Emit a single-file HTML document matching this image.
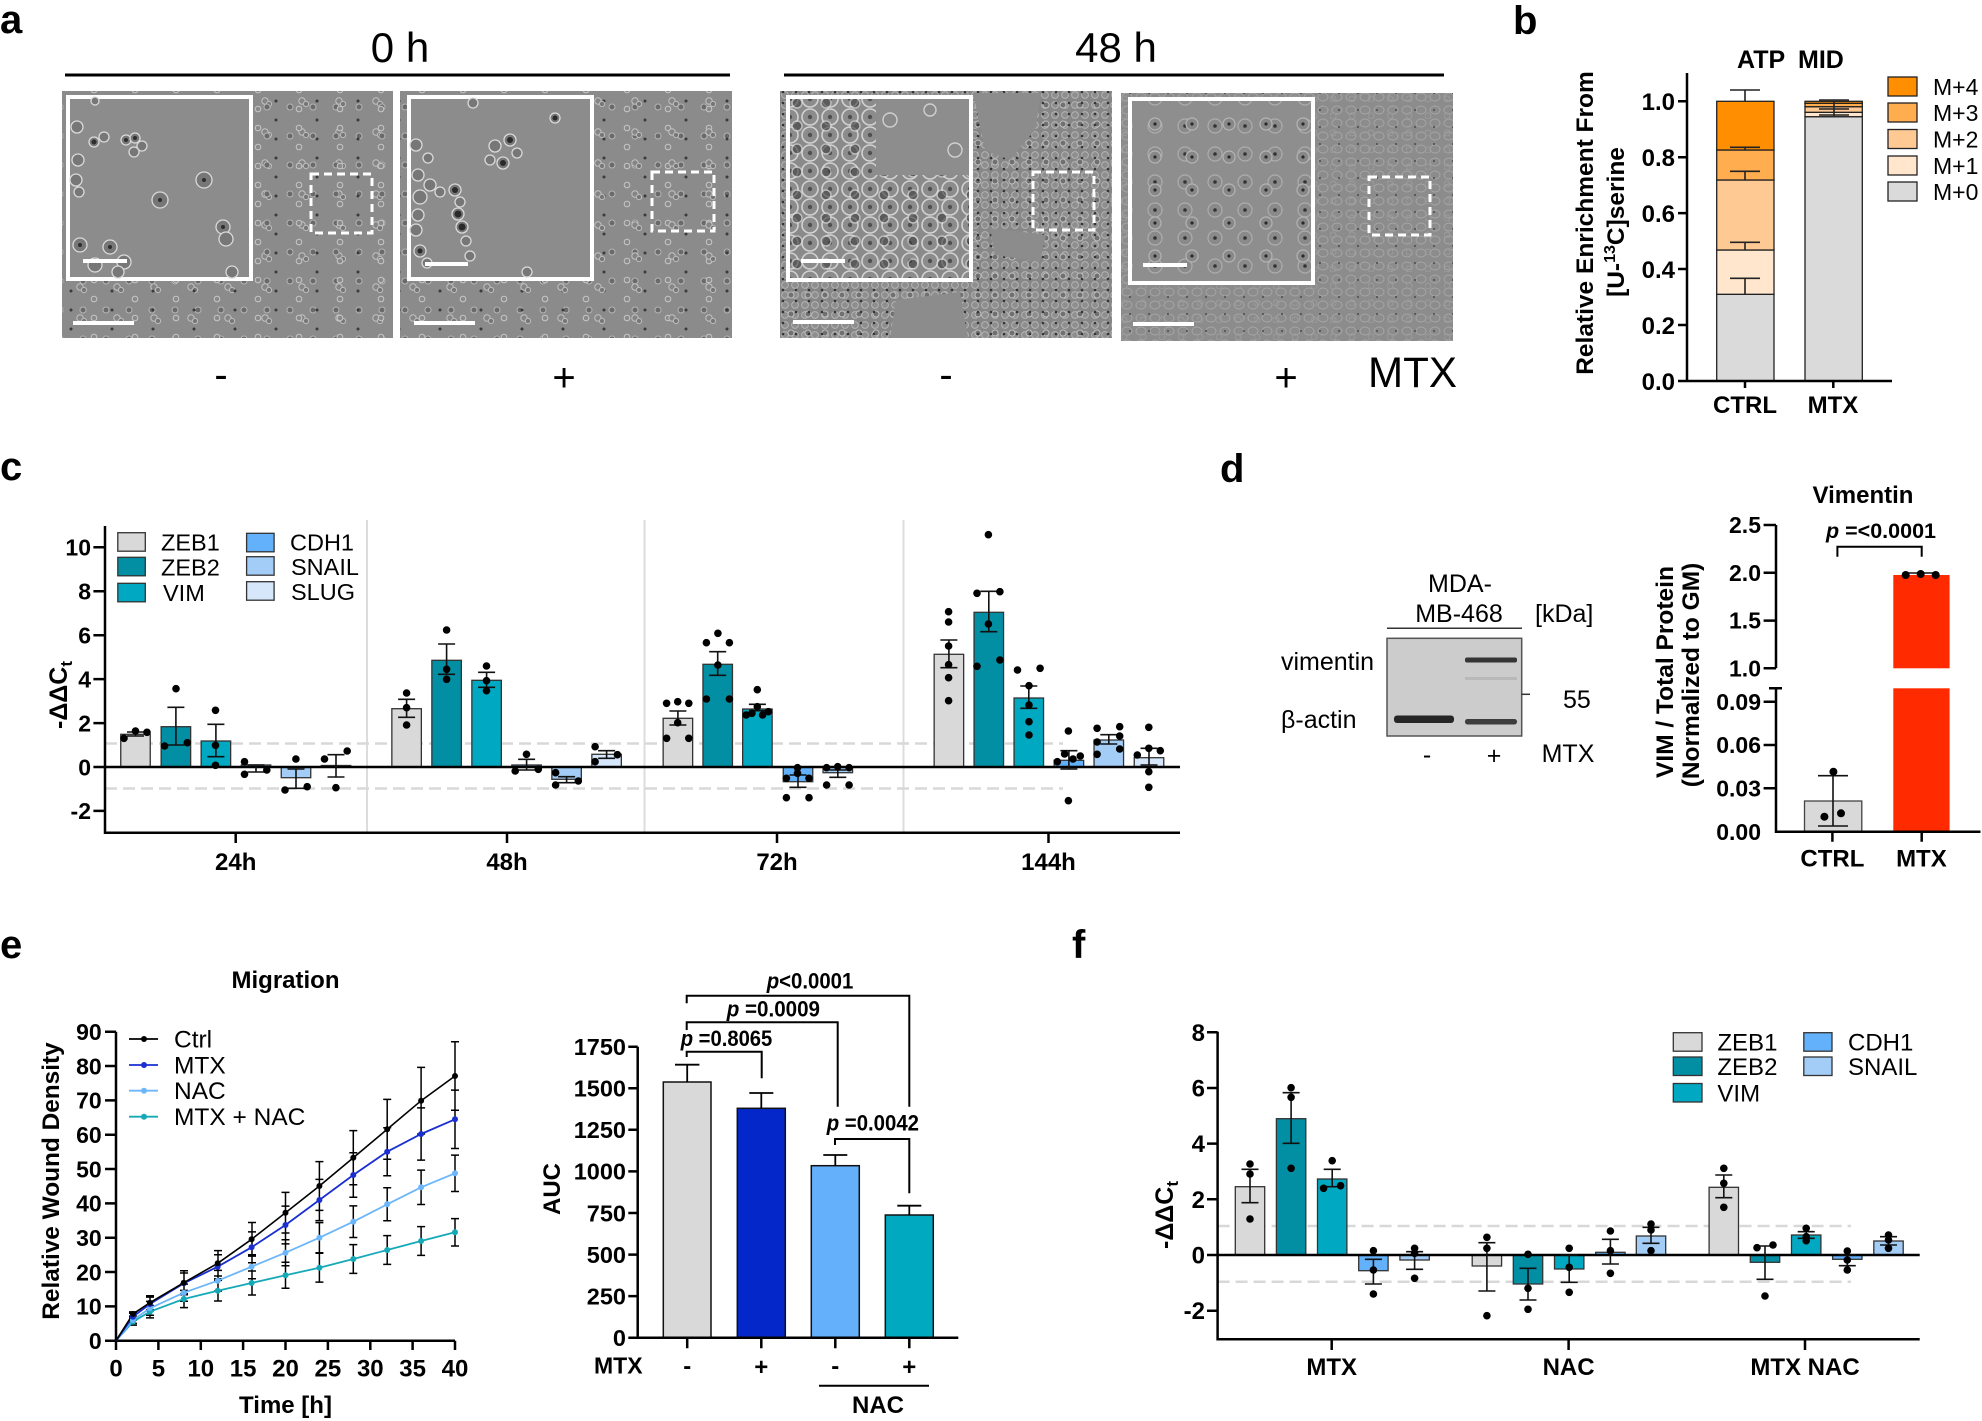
<!DOCTYPE html>
<html><head><meta charset="utf-8"><style>
html,body{margin:0;padding:0;background:#fff;}
svg{display:block;font-family:"Liberation Sans",Arial,sans-serif;}
.b{font-weight:bold;}
</style></head><body>
<svg width="1982" height="1421" viewBox="0 0 1982 1421" xmlns="http://www.w3.org/2000/svg">
<defs>
<pattern id="pS1" width="37" height="31" patternUnits="userSpaceOnUse">
<circle cx="6" cy="8" r="3.2" fill="#858585" stroke="#c2c2c2" stroke-width="1"/>
<circle cx="10" cy="11" r="2.6" fill="#767676" stroke="#bcbcbc" stroke-width="1"/>
</pattern>
<pattern id="pS2" width="23" height="29" patternUnits="userSpaceOnUse">
<circle cx="14" cy="20" r="3" fill="#6a6a6a" stroke="#b5b5b5" stroke-width="1"/>
</pattern>
<pattern id="pS3" width="41" height="19" patternUnits="userSpaceOnUse">
<circle cx="30" cy="6" r="1.5" fill="#3a3a3a"/>
<circle cx="12" cy="14" r="2.8" fill="#8a8a8a" stroke="#c6c6c6" stroke-width="1"/>
</pattern>
<pattern id="pD1" width="10" height="10" patternUnits="userSpaceOnUse">
<circle cx="5" cy="5" r="3.4" fill="#8e8e8e" stroke="#b3b3b3" stroke-width="1"/>
</pattern>
<pattern id="pD2" width="13" height="11" patternUnits="userSpaceOnUse">
<circle cx="3" cy="4" r="1.3" fill="#353535"/>
</pattern>
<pattern id="pD3" width="17" height="19" patternUnits="userSpaceOnUse">
<circle cx="9" cy="10" r="3" fill="#707070" stroke="#c0c0c0" stroke-width="1"/>
</pattern>
<pattern id="pF1" width="14" height="13" patternUnits="userSpaceOnUse">
<ellipse cx="7" cy="6" rx="5" ry="4" fill="none" stroke="#a6a6a6" stroke-width="0.9"/>
</pattern>
<pattern id="pF2" width="19" height="17" patternUnits="userSpaceOnUse">
<circle cx="9" cy="8" r="1.1" fill="#555"/>
<circle cx="3" cy="14" r="3" fill="none" stroke="#9c9c9c" stroke-width="0.9"/>
</pattern>
<pattern id="pBig" width="20" height="18" patternUnits="userSpaceOnUse">
<rect width="20" height="18" fill="#8a8a8a"/>
<circle cx="10" cy="9" r="8" fill="#8c8c8c" stroke="#d2d2d2" stroke-width="1.6"/>
<circle cx="10" cy="9" r="2.2" fill="#505050"/>
</pattern>
<pattern id="pBig2" width="29" height="23" patternUnits="userSpaceOnUse">
<circle cx="14" cy="11" r="5" fill="#3c3c3c" stroke="#dcdcdc" stroke-width="1.5"/>
</pattern>
<pattern id="pMed" width="30" height="28" patternUnits="userSpaceOnUse">
<rect width="30" height="28" fill="#8e8e8e"/>
<circle cx="15" cy="14" r="7" fill="#8a8a8a" stroke="#adadad" stroke-width="1.2"/>
<circle cx="15" cy="14" r="1.8" fill="#333"/>
</pattern>
<pattern id="pMed2" width="37" height="33" patternUnits="userSpaceOnUse">
<circle cx="8" cy="25" r="6" fill="#888" stroke="#b5b5b5" stroke-width="1.2"/>
<circle cx="8" cy="25" r="1.6" fill="#2a2a2a"/>
</pattern>
</defs>

<!-- ================= Panel a ================= -->
<text x="0" y="33" class="b" font-size="40">a</text>
<text x="400" y="62" font-size="42" text-anchor="middle">0 h</text>
<line x1="65" y1="75" x2="730" y2="75" stroke="#000" stroke-width="3"/>
<text x="1116" y="62" font-size="42" text-anchor="middle">48 h</text>
<line x1="784" y1="75" x2="1444" y2="75" stroke="#000" stroke-width="3"/>

<!-- image 1 -->
<rect x="62" y="91" width="331" height="247" fill="#8b8b8b"/>
<rect x="62" y="91" width="331" height="247" fill="url(#pS1)"/>
<rect x="62" y="91" width="331" height="247" fill="url(#pS2)"/>
<rect x="62" y="91" width="331" height="247" fill="url(#pS3)"/>
<rect x="68" y="97" width="183" height="182" fill="#8c8c8c" stroke="#fff" stroke-width="4"/>
<g fill="#777" stroke="#dadada" stroke-width="1.3">
<circle cx="126" cy="140" r="5"/><circle cx="135" cy="138" r="5"/><circle cx="142" cy="146" r="5"/><circle cx="134" cy="152" r="5"/>
<circle cx="94" cy="142" r="5"/><circle cx="104" cy="137" r="5"/><circle cx="77" cy="127" r="6"/><circle cx="78" cy="160" r="6"/><circle cx="76" cy="180" r="6"/><circle cx="79" cy="192" r="5"/>
<circle cx="204" cy="180" r="8"/><circle cx="160" cy="200" r="8"/><circle cx="223" cy="227" r="7"/><circle cx="226" cy="239" r="7"/>
<circle cx="80" cy="245" r="7"/><circle cx="110" cy="247" r="7"/><circle cx="124" cy="262" r="7"/><circle cx="95" cy="265" r="7"/><circle cx="118" cy="272" r="6"/><circle cx="232" cy="272" r="6"/><circle cx="95" cy="101" r="4"/>
</g>
<g fill="#2e2e2e"><circle cx="126" cy="140" r="2"/><circle cx="135" cy="138" r="2"/><circle cx="94" cy="142" r="2.5"/><circle cx="204" cy="180" r="2"/><circle cx="160" cy="200" r="2"/><circle cx="223" cy="227" r="2"/><circle cx="80" cy="245" r="2"/><circle cx="110" cy="247" r="2"/></g>
<rect x="311" y="174" width="61" height="59" fill="none" stroke="#fff" stroke-width="3" stroke-dasharray="8 5"/>
<rect x="73" y="321" width="61" height="4" fill="#fff"/>
<rect x="83" y="259" width="44" height="4" fill="#fff"/>

<!-- image 2 -->
<rect x="400" y="91" width="332" height="247" fill="#8b8b8b"/>
<rect x="400" y="91" width="332" height="247" fill="url(#pS2)"/>
<rect x="400" y="91" width="332" height="247" fill="url(#pS3)"/>
<rect x="400" y="91" width="332" height="247" fill="url(#pS1)"/>
<rect x="409" y="97" width="183" height="182" fill="#8c8c8c" stroke="#fff" stroke-width="4"/>
<g fill="#777" stroke="#dadada" stroke-width="1.3">
<circle cx="416" cy="145" r="6"/><circle cx="428" cy="158" r="5"/><circle cx="418" cy="175" r="6"/><circle cx="430" cy="185" r="6"/><circle cx="420" cy="197" r="7"/><circle cx="440" cy="192" r="5"/><circle cx="455" cy="190" r="6"/><circle cx="460" cy="202" r="5"/><circle cx="458" cy="214" r="6"/><circle cx="462" cy="227" r="6"/><circle cx="466" cy="241" r="5"/><circle cx="470" cy="256" r="5"/><circle cx="420" cy="251" r="6"/><circle cx="427" cy="263" r="5"/><circle cx="418" cy="215" r="6"/><circle cx="416" cy="230" r="6"/>
<circle cx="495" cy="146" r="6"/><circle cx="510" cy="140" r="6"/><circle cx="517" cy="153" r="5"/><circle cx="503" cy="163" r="6"/><circle cx="490" cy="160" r="5"/><circle cx="473" cy="103" r="5"/><circle cx="555" cy="118" r="5"/><circle cx="527" cy="272" r="5"/>
</g>
<g fill="#2a2a2a"><circle cx="458" cy="214" r="3.5"/><circle cx="462" cy="227" r="3.5"/><circle cx="455" cy="190" r="3"/><circle cx="510" cy="140" r="3"/><circle cx="503" cy="163" r="3"/><circle cx="555" cy="118" r="2.5"/><circle cx="420" cy="251" r="2.5"/></g>
<rect x="652" y="172" width="62" height="59" fill="none" stroke="#fff" stroke-width="3" stroke-dasharray="8 5"/>
<rect x="414" y="321" width="61" height="4" fill="#fff"/>
<rect x="425" y="262" width="43" height="4" fill="#fff"/>

<!-- image 3 -->
<rect x="780" y="91" width="332" height="247" fill="#878787"/>
<rect x="780" y="91" width="332" height="247" fill="url(#pD1)"/>
<rect x="780" y="91" width="332" height="247" fill="url(#pD3)"/>
<rect x="780" y="91" width="332" height="247" fill="url(#pD2)"/>
<g fill="#8c8c8c">
<path d="M973,93 L1041,93 L1035,130 L1010,160 L985,150 Z"/>
<path d="M896,300 L960,292 L968,338 L890,338 Z"/>
<path d="M990,228 L1046,235 L1040,262 L995,255 Z"/>
</g>
<rect x="788" y="97" width="183" height="183" fill="#8d8d8d" stroke="#fff" stroke-width="4"/>
<path d="M790,99 L876,99 L876,175 L969,175 L969,278 L790,278 Z" fill="url(#pBig)"/>
<path d="M790,99 L876,99 L876,175 L969,175 L969,278 L790,278 Z" fill="url(#pBig2)" opacity="0.6"/>
<g fill="#8a8a8a" stroke="#d0d0d0" stroke-width="1.4"><circle cx="890" cy="120" r="7"/><circle cx="930" cy="110" r="6"/><circle cx="955" cy="150" r="7"/></g>
<rect x="1033" y="172" width="61" height="58" fill="none" stroke="#fff" stroke-width="3" stroke-dasharray="8 5"/>
<rect x="793" y="320" width="61" height="4" fill="#fff"/>
<rect x="801" y="259" width="44" height="4" fill="#fff"/>

<!-- image 4 -->
<rect x="1121" y="93" width="332" height="248" fill="#8c8c8c"/>
<rect x="1121" y="93" width="332" height="248" fill="url(#pF1)"/>
<rect x="1121" y="93" width="332" height="248" fill="url(#pF2)"/>
<rect x="1130" y="99" width="183" height="184" fill="url(#pMed)" stroke="#fff" stroke-width="4"/>
<rect x="1132" y="101" width="179" height="180" fill="url(#pMed2)"/>
<rect x="1369" y="177" width="61" height="58" fill="none" stroke="#fff" stroke-width="3" stroke-dasharray="8 5"/>
<rect x="1133" y="322" width="61" height="4" fill="#fff"/>
<rect x="1143" y="263" width="44" height="4" fill="#fff"/>

<text x="221" y="388" font-size="40" text-anchor="middle">-</text>
<text x="564" y="391" font-size="40" text-anchor="middle">+</text>
<text x="946" y="388" font-size="40" text-anchor="middle">-</text>
<text x="1286" y="391" font-size="40" text-anchor="middle">+</text>
<text x="1368" y="387" font-size="43" textLength="89" lengthAdjust="spacingAndGlyphs">MTX</text>

<!-- ================= Panel b ================= -->
<text x="1513" y="34" class="b" font-size="40">b</text>
<text x="1737" y="68" class="b" font-size="25">ATP</text>
<text x="1798" y="68" class="b" font-size="25">MID</text>
<text transform="translate(1593,223) rotate(-90)" class="b" font-size="24.5" text-anchor="middle">Relative Enrichment From</text>
<text transform="translate(1624,222) rotate(-90)" class="b" font-size="24.5" text-anchor="middle">[U-<tspan font-size="16" dy="-9">13</tspan><tspan dy="9">C]serine</tspan></text>
<g stroke="#222" stroke-width="1.3">
<rect x="1716.7" y="294.3" width="57.3" height="86.7" fill="#dadada"/>
<rect x="1716.7" y="250" width="57.3" height="44.3" fill="#ffe6cc"/>
<rect x="1716.7" y="180" width="57.3" height="70" fill="#ffc994"/>
<rect x="1716.7" y="150" width="57.3" height="30" fill="#ffad4f"/>
<rect x="1716.7" y="101.3" width="57.3" height="48.7" fill="#ff8f00"/>
<rect x="1805" y="116.7" width="57.3" height="264.3" fill="#dadada"/>
<rect x="1805" y="112.3" width="57.3" height="4.4" fill="#ffe6cc"/>
<rect x="1805" y="106.7" width="57.3" height="5.6" fill="#ffc994"/>
<rect x="1805" y="103.3" width="57.3" height="3.4" fill="#ffad4f"/>
<rect x="1805" y="101.3" width="57.3" height="2" fill="#ff8f00"/>
</g>
<path d="M1745,101.3V90M1730,90H1760M1745,150V147.3M1730,147.3H1760M1745,180V171.3M1730,171.3H1760M1745,250V242.3M1730,242.3H1760M1745,294.3V278.3M1730,278.3H1760M1819,100H1849M1819,109H1849M1834,101V116M1819,115H1849" stroke="#222" stroke-width="1.6" fill="none"/>
<path d="M1687,73V381M1678,381H1892M1678,101.3H1687M1678,157.2H1687M1678,213.1H1687M1678,269H1687M1678,325H1687M1745,381V388M1833.3,381V388" stroke="#000" stroke-width="2.5" fill="none"/>
<g class="b" font-size="24" text-anchor="end">
<text x="1675" y="110">1.0</text><text x="1675" y="166">0.8</text><text x="1675" y="222">0.6</text><text x="1675" y="278">0.4</text><text x="1675" y="334">0.2</text><text x="1675" y="390">0.0</text>
</g>
<text x="1745" y="413" class="b" font-size="24" text-anchor="middle">CTRL</text>
<text x="1833" y="413" class="b" font-size="24" text-anchor="middle">MTX</text>
<g stroke="#222" stroke-width="1.3">
<rect x="1888" y="77" width="29" height="19" fill="#ff8f00"/>
<rect x="1888" y="103" width="29" height="19" fill="#ffad4f"/>
<rect x="1888" y="129.5" width="29" height="19" fill="#ffc994"/>
<rect x="1888" y="156" width="29" height="19" fill="#ffe6cc"/>
<rect x="1888" y="182" width="29" height="19" fill="#dadada"/>
</g>
<g font-size="23">
<text x="1933" y="95">M+4</text><text x="1933" y="121">M+3</text><text x="1933" y="147.5">M+2</text><text x="1933" y="174">M+1</text><text x="1933" y="200">M+0</text>
</g>

<!-- ================= Panel c ================= -->
<text x="0" y="480" class="b" font-size="40">c</text>
<g stroke="#dcdcdc" stroke-width="2"><line x1="367" y1="520" x2="367" y2="832"/><line x1="644.5" y1="520" x2="644.5" y2="832"/><line x1="903.5" y1="520" x2="903.5" y2="832"/></g>
<g stroke="#d8d8d8" stroke-width="2.5" stroke-dasharray="12 6"><line x1="105" y1="743.5" x2="1063" y2="743.5"/><line x1="105" y1="788.5" x2="1063" y2="788.5"/></g>
<g stroke="#333" stroke-width="1.3">
<rect x="120.75" y="734.3" width="29.5" height="32.7" fill="#d9d9d9"/>
<rect x="161.15" y="726.7" width="29.5" height="40.3" fill="#028fa4"/>
<rect x="201.15" y="741" width="29.5" height="26" fill="#00a9c1"/>
<rect x="241.25" y="765" width="29.5" height="2" fill="#63b0fb"/>
<rect x="281.25" y="767" width="29.5" height="10.7" fill="#a3cdf7"/>
<rect x="321.25" y="765.5" width="29.5" height="1.5" fill="#d6e7fb"/>
<rect x="391.85" y="708.7" width="29.5" height="58.3" fill="#d9d9d9"/>
<rect x="431.85" y="660.3" width="29.5" height="106.7" fill="#028fa4"/>
<rect x="471.85" y="680.3" width="29.5" height="86.7" fill="#00a9c1"/>
<rect x="511.85" y="765" width="29.5" height="2" fill="#63b0fb"/>
<rect x="551.85" y="767" width="29.5" height="12.3" fill="#a3cdf7"/>
<rect x="591.85" y="754.3" width="29.5" height="12.7" fill="#d6e7fb"/>
<rect x="663.15" y="718.3" width="29.5" height="48.7" fill="#d9d9d9"/>
<rect x="702.95" y="664.3" width="29.5" height="102.7" fill="#028fa4"/>
<rect x="742.65" y="709" width="29.5" height="58" fill="#00a9c1"/>
<rect x="783.25" y="767" width="29.5" height="14.7" fill="#63b0fb"/>
<rect x="823.05" y="767" width="29.5" height="5.7" fill="#a3cdf7"/>
<rect x="934.15" y="654.3" width="29.5" height="112.7" fill="#d9d9d9"/>
<rect x="974.05" y="612.3" width="29.5" height="154.7" fill="#028fa4"/>
<rect x="1014.05" y="698" width="29.5" height="69" fill="#00a9c1"/>
<rect x="1054.15" y="760.3" width="29.5" height="6.7" fill="#63b0fb"/>
<rect x="1094.05" y="740" width="29.5" height="27" fill="#a3cdf7"/>
<rect x="1134.25" y="757.7" width="29.5" height="9.3" fill="#d6e7fb"/>
</g>
<path d="M105,526V832.7H1180M93.4,547.3H105M93.4,591.2H105M93.4,635.2H105M93.4,679.1H105M93.4,723.1H105M93.4,767H105M93.4,810.9H105M235.7,832.7V843M507,832.7V843M777,832.7V843M1048.5,832.7V843" stroke="#000" stroke-width="2.5" fill="none"/>
<line x1="105" y1="767" x2="1180" y2="767" stroke="#000" stroke-width="2.5"/>
<path stroke="#111" stroke-width="1.6" fill="none" d="
M127,732H144M135.5,732V736M127,736H144
M167.4,707.3H184.4M175.9,707.3V745M167.4,745H184.4
M207.4,724.3H224.4M215.9,724.3V756.7M207.4,756.7H224.4
M247.5,765H264.5M256,765V772M247.5,772H264.5
M287.5,769H304.5M296,769V788.3M287.5,788.3H304.5
M327.5,754.7H344.5M336,754.7V777M327.5,777H344.5
M398.1,699.3H415.1M406.6,699.3V717.3M398.1,717.3H415.1
M438.1,644H455.1M446.6,644V674.3M438.1,674.3H455.1
M478.1,672.3H495.1M486.6,672.3V687.3M478.1,687.3H495.1
M518.1,759.3H535.1M526.6,759.3V770M518.1,770H535.1
M558.1,776.7H575.1M566.6,776.7V782.7M558.1,782.7H575.1
M598.1,750.7H615.1M606.6,750.7V758.3M598.1,758.3H615.1
M669.4,711H686.4M677.9,711V725M669.4,725H686.4
M709.2,651.7H726.2M717.7,651.7V675.3M709.2,675.3H726.2
M748.9,704.3H765.9M757.4,704.3V710.7M748.9,710.7H765.9
M789.5,775H806.5M798,775V787.3M789.5,787.3H806.5
M829.3,770H846.3M837.8,770V777.3M829.3,777.3H846.3
M940.4,640H957.4M948.9,640V667.7M940.4,667.7H957.4
M980.3,591.3H997.3M988.8,591.3V631.7M980.3,631.7H997.3
M1020.3,686H1037.3M1028.8,686V708.3M1020.3,708.3H1037.3
M1060.4,750.7H1077.4M1068.9,750.7V769M1060.4,769H1077.4
M1100.3,734.7H1117.3M1108.8,734.7V744M1100.3,744H1117.3
M1140.5,748.3H1157.5M1149,748.3V765M1140.5,765H1157.5"/>
<g fill="#000">
<circle cx="124" cy="738.3" r="3.8"/><circle cx="135.5" cy="731" r="3.8"/><circle cx="147" cy="732.3" r="3.8"/>
<circle cx="176" cy="688.7" r="3.8"/><circle cx="164.6" cy="746" r="3.8"/><circle cx="187.3" cy="742.7" r="3.8"/>
<circle cx="215.5" cy="710.3" r="3.8"/><circle cx="215.5" cy="745.3" r="3.8"/><circle cx="215.5" cy="765.3" r="3.8"/>
<circle cx="244.5" cy="761.7" r="3.8"/><circle cx="244.5" cy="774.3" r="3.8"/><circle cx="266.8" cy="770" r="3.8"/>
<circle cx="295.9" cy="759" r="3.8"/><circle cx="285" cy="790" r="3.8"/><circle cx="307.2" cy="786.7" r="3.8"/>
<circle cx="324.5" cy="759" r="3.8"/><circle cx="347.2" cy="751" r="3.8"/><circle cx="335.9" cy="787.7" r="3.8"/>
<circle cx="406.6" cy="693" r="3.8"/><circle cx="406.6" cy="707.7" r="3.8"/><circle cx="406.6" cy="725" r="3.8"/>
<circle cx="446.6" cy="630" r="3.8"/><circle cx="446.6" cy="669.3" r="3.8"/><circle cx="446.6" cy="679.3" r="3.8"/>
<circle cx="486.5" cy="666" r="3.8"/><circle cx="486.5" cy="680.7" r="3.8"/><circle cx="486.5" cy="690.7" r="3.8"/>
<circle cx="526.5" cy="754.3" r="3.8"/><circle cx="515.2" cy="771" r="3.8"/><circle cx="538.3" cy="769.3" r="3.8"/>
<circle cx="555.6" cy="772.7" r="3.8"/><circle cx="555.6" cy="785" r="3.8"/><circle cx="578.3" cy="781" r="3.8"/>
<circle cx="595.1" cy="746.7" r="3.8"/><circle cx="595.1" cy="761.7" r="3.8"/><circle cx="617.4" cy="754.7" r="3.8"/>
<circle cx="666.6" cy="703.3" r="3.8"/><circle cx="677.7" cy="701.7" r="3.8"/><circle cx="688.8" cy="703.3" r="3.8"/><circle cx="677.7" cy="722.7" r="3.8"/><circle cx="666.6" cy="738.3" r="3.8"/><circle cx="688.8" cy="738.3" r="3.8"/>
<circle cx="706.4" cy="642.7" r="3.8"/><circle cx="717.9" cy="633.3" r="3.8"/><circle cx="729.4" cy="642.7" r="3.8"/><circle cx="717.9" cy="665" r="3.8"/><circle cx="706.4" cy="699" r="3.8"/><circle cx="729.4" cy="699" r="3.8"/>
<circle cx="757.3" cy="689.7" r="3.8"/><circle cx="757.3" cy="706.7" r="3.8"/><circle cx="746.2" cy="715" r="3.8"/><circle cx="768.4" cy="711.7" r="3.8"/><circle cx="762.6" cy="715" r="3.8"/><circle cx="751.9" cy="713.3" r="3.8"/>
<circle cx="797.5" cy="767.7" r="3.8"/><circle cx="797.5" cy="773.3" r="3.8"/><circle cx="786.4" cy="778.3" r="3.8"/><circle cx="809" cy="778.3" r="3.8"/><circle cx="786.4" cy="797.7" r="3.8"/><circle cx="809" cy="797.7" r="3.8"/>
<circle cx="826.6" cy="767.7" r="3.8"/><circle cx="837.7" cy="766.7" r="3.8"/><circle cx="849.1" cy="767.7" r="3.8"/><circle cx="826.6" cy="785" r="3.8"/><circle cx="849.1" cy="785" r="3.8"/>
<circle cx="948.6" cy="611.7" r="3.8"/><circle cx="948.6" cy="622" r="3.8"/><circle cx="948.6" cy="646" r="3.8"/><circle cx="948.6" cy="664.7" r="3.8"/><circle cx="948.6" cy="677.7" r="3.8"/><circle cx="948.6" cy="700.7" r="3.8"/>
<circle cx="988.4" cy="534.7" r="3.8"/><circle cx="977" cy="593.3" r="3.8"/><circle cx="999.9" cy="591.7" r="3.8"/><circle cx="988.4" cy="624" r="3.8"/><circle cx="977" cy="666.3" r="3.8"/><circle cx="999.9" cy="660" r="3.8"/>
<circle cx="1017.5" cy="670" r="3.8"/><circle cx="1040.1" cy="668.3" r="3.8"/><circle cx="1029" cy="685.7" r="3.8"/><circle cx="1029" cy="705" r="3.8"/><circle cx="1029" cy="721.7" r="3.8"/><circle cx="1029" cy="735" r="3.8"/>
<circle cx="1068.4" cy="731" r="3.8"/><circle cx="1057.3" cy="761.7" r="3.8"/><circle cx="1064.6" cy="754" r="3.8"/><circle cx="1073" cy="759" r="3.8"/><circle cx="1080.3" cy="756" r="3.8"/><circle cx="1068.4" cy="800.7" r="3.8"/>
<circle cx="1097.1" cy="728.3" r="3.8"/><circle cx="1119.7" cy="726.7" r="3.8"/><circle cx="1119.7" cy="736" r="3.8"/><circle cx="1097.1" cy="742" r="3.8"/><circle cx="1097.1" cy="754.3" r="3.8"/><circle cx="1119.7" cy="749" r="3.8"/>
<circle cx="1148.8" cy="727.3" r="3.8"/><circle cx="1137.3" cy="755" r="3.8"/><circle cx="1160.3" cy="750.7" r="3.8"/><circle cx="1148.8" cy="748.3" r="3.8"/><circle cx="1148.8" cy="771.7" r="3.8"/><circle cx="1148.8" cy="787.3" r="3.8"/>
</g>
<g class="b" font-size="23" text-anchor="end">
<text x="91" y="555.5">10</text><text x="91" y="599.5">8</text><text x="91" y="643.5">6</text><text x="91" y="687.5">4</text><text x="91" y="731.5">2</text><text x="91" y="775.5">0</text><text x="91" y="819">-2</text>
</g>
<text transform="translate(67,695) rotate(-90)" class="b" font-size="25" text-anchor="middle">-ΔΔC<tspan font-size="17" dy="5">t</tspan></text>
<g class="b" font-size="24" text-anchor="middle">
<text x="235.7" y="870">24h</text><text x="507" y="870">48h</text><text x="777" y="870">72h</text><text x="1048.5" y="870">144h</text>
</g>
<g stroke="#333" stroke-width="1.3">
<rect x="117.8" y="532.7" width="27.5" height="18.5" fill="#d9d9d9"/>
<rect x="117.8" y="557.3" width="27.5" height="18.5" fill="#028fa4"/>
<rect x="117.8" y="583.3" width="27.5" height="18.5" fill="#00a9c1"/>
<rect x="246.6" y="533.3" width="27.5" height="18.5" fill="#63b0fb"/>
<rect x="246.6" y="556.7" width="27.5" height="18.5" fill="#a3cdf7"/>
<rect x="246.6" y="581.7" width="27.5" height="18.5" fill="#d6e7fb"/>
</g>
<g font-size="23.5">
<text x="161" y="550.5">ZEB1</text><text x="161" y="575.5">ZEB2</text><text x="163" y="601">VIM</text>
<text x="290" y="550.5">CDH1</text><text x="291" y="575">SNAIL</text><text x="291" y="600">SLUG</text>
</g>

<!-- ================= Panel d ================= -->
<text x="1220" y="482" class="b" font-size="40">d</text>
<g font-size="25">
<text x="1460" y="592" text-anchor="middle">MDA-</text>
<text x="1459" y="622" text-anchor="middle">MB-468</text>
<text x="1535" y="622">[kDa]</text>
<text x="1281" y="670">vimentin</text>
<text x="1281" y="728">β-actin</text>
<text x="1563" y="708">55</text>
<text x="1427" y="763" text-anchor="middle">-</text>
<text x="1494" y="764" text-anchor="middle">+</text>
<text x="1541.6" y="762">MTX</text>
</g>
<line x1="1387" y1="628.3" x2="1522" y2="628.3" stroke="#333" stroke-width="1.5"/>
<rect x="1387" y="638.3" width="134.7" height="97.7" fill="#cccccc" stroke="#555" stroke-width="1.5"/>
<rect x="1465" y="657.5" width="52" height="5" rx="2" fill="#353535"/>
<rect x="1465" y="677" width="52" height="3" fill="#b9b9b9"/>
<rect x="1394" y="715.5" width="60" height="7.5" rx="3" fill="#262626"/>
<rect x="1465" y="719" width="52" height="5.5" rx="2.5" fill="#3d3d3d"/>
<line x1="1521.7" y1="694.3" x2="1530" y2="694.3" stroke="#333" stroke-width="1.5"/>

<text x="1863" y="503" class="b" font-size="24" text-anchor="middle">Vimentin</text>
<text x="1826" y="538" class="b" font-size="21.5"><tspan font-style="italic">p</tspan> =&lt;0.0001</text>
<path d="M1837.4,556.7V546.7H1921.7V556.7" stroke="#000" stroke-width="2" fill="none"/>
<rect x="1804.5" y="801" width="57.3" height="30.7" fill="#d9d9d9" stroke="#444" stroke-width="1.3"/>
<rect x="1893.3" y="575" width="56.3" height="93.3" fill="#ff2a00"/>
<rect x="1893.3" y="688.3" width="56.3" height="143.4" fill="#ff2a00"/>
<path d="M1776,525V668.3M1776,688.3V831.7H1980.5M1763.6,525H1776M1763.6,572.8H1776M1763.6,620.6H1776M1763.6,668.3H1776M1769,688.3H1782M1763.6,701.7H1776M1763.6,745H1776M1763.6,788.3H1776M1832.4,831.7V841.7M1921.7,831.7V841.7" stroke="#000" stroke-width="2.5" fill="none"/>
<path d="M1818,775.7H1848M1833,775.7V826M1818,826H1848M1906,573H1936" stroke="#111" stroke-width="1.6" fill="none"/>
<g fill="#000"><circle cx="1833.4" cy="771.7" r="4"/><circle cx="1824.4" cy="816.7" r="4"/><circle cx="1841" cy="813.3" r="4"/><circle cx="1905.7" cy="575" r="4"/><circle cx="1920.7" cy="574" r="4"/><circle cx="1935.7" cy="575" r="4"/></g>
<g class="b" font-size="23" text-anchor="end">
<text x="1761" y="533">2.5</text><text x="1761" y="581">2.0</text><text x="1761" y="628.5">1.5</text><text x="1761" y="676.5">1.0</text>
<text x="1761" y="710">0.09</text><text x="1761" y="753">0.06</text><text x="1761" y="796.5">0.03</text><text x="1761" y="840">0.00</text>
</g>
<text transform="translate(1673,672) rotate(-90)" class="b" font-size="24.5" text-anchor="middle">VIM / Total Protein</text>
<text transform="translate(1699,675) rotate(-90)" class="b" font-size="24.5" text-anchor="middle">(Normalized to GM)</text>
<text x="1832.4" y="866.7" class="b" font-size="24" text-anchor="middle">CTRL</text>
<text x="1921.4" y="866.7" class="b" font-size="24" text-anchor="middle">MTX</text>

<!-- ================= Panel e (line) ================= -->
<text x="0" y="958" class="b" font-size="40">e</text>
<text x="285.5" y="988" class="b" font-size="24" text-anchor="middle">Migration</text>
<path d="M116,1031.7V1340.7M105,1340.7H455M105,1031.7H116M105,1066H116M105,1100.4H116M105,1134.7H116M105,1169H116M105,1203.4H116M105,1237.7H116M105,1272H116M105,1306.4H116M116,1340.7V1350M158.4,1340.7V1350M200.8,1340.7V1350M243.1,1340.7V1350M285.5,1340.7V1350M327.9,1340.7V1350M370.3,1340.7V1350M412.6,1340.7V1350M455,1340.7V1350" stroke="#000" stroke-width="2.5" fill="none"/>
<g class="b" font-size="23" text-anchor="end">
<text x="101.7" y="1040">90</text><text x="101.7" y="1074.3">80</text><text x="101.7" y="1108.7">70</text><text x="101.7" y="1143">60</text><text x="101.7" y="1177.3">50</text><text x="101.7" y="1211.7">40</text><text x="101.7" y="1246">30</text><text x="101.7" y="1280.3">20</text><text x="101.7" y="1314.7">10</text><text x="101.7" y="1349">0</text>
</g>
<g class="b" font-size="24" text-anchor="middle">
<text x="116" y="1376.7">0</text><text x="158.4" y="1376.7">5</text><text x="200.8" y="1376.7">10</text><text x="243.1" y="1376.7">15</text><text x="285.5" y="1376.7">20</text><text x="327.9" y="1376.7">25</text><text x="370.3" y="1376.7">30</text><text x="412.6" y="1376.7">35</text><text x="455" y="1376.7">40</text>
</g>
<text x="285.5" y="1413" class="b" font-size="24" text-anchor="middle">Time [h]</text>
<text transform="translate(59,1181) rotate(-90)" class="b" font-size="24.4" text-anchor="middle">Relative Wound Density</text>
<path stroke="#000" stroke-width="1.5" fill="none" d="
M129,1311.9h8M133,1311.9V1316.1M129,1316.1h8
M146,1295.8h8M150,1295.8V1309.6M146,1309.6h8
M180,1270.7h8M184,1270.7V1294.7M180,1294.7h8
M214,1250.6h8M218,1250.6V1276M214,1276h8
M248,1222.5h8M252,1222.5V1256.1M248,1256.1h8
M281.5,1192.4h8M285.5,1192.4V1233M281.5,1233h8
M315.4,1161.6h8M319.4,1161.6V1210.4M315.4,1210.4h8
M349.3,1130.6h8M353.3,1130.6V1184.8M349.3,1184.8h8
M383.2,1099.4h8M387.2,1099.4V1159.2M383.2,1159.2h8
M417.1,1067.4h8M421.1,1067.4V1134M417.1,1134h8
M451,1041.7h8M455,1041.7V1110.3M451,1110.3h8
M129,1313.3h8M133,1313.3V1320.1M129,1320.1h8
M146,1297.1h8M150,1297.1V1310.9M146,1310.9h8
M180,1273h8M184,1273V1293.6M180,1293.6h8
M214,1254.7h8M218,1254.7V1278.7M214,1278.7h8
M248,1231.9h8M252,1231.9V1262.7M248,1262.7h8
M281.5,1206.1h8M285.5,1206.1V1243.9M281.5,1243.9h8
M315.4,1179.4h8M319.4,1179.4V1220.6M315.4,1220.6h8
M349.3,1152.7h8M353.3,1152.7V1197.3M349.3,1197.3h8
M383.2,1127.7h8M387.2,1127.7V1175.7M383.2,1175.7h8
M417.1,1107.9h8M421.1,1107.9V1160.1M417.1,1160.1h8
M451,1090.1h8M455,1090.1V1148.5M451,1148.5h8
M129,1316.6h8M133,1316.6V1323.4M129,1323.4h8
M146,1301.4h8M150,1301.4V1315.2M146,1315.2h8
M180,1284.1h8M184,1284.1V1301.3M180,1301.3h8
M214,1270.4h8M218,1270.4V1291M214,1291h8
M248,1254.7h8M252,1254.7V1278.7M248,1278.7h8
M281.5,1239.7h8M285.5,1239.7V1265.7M281.5,1265.7h8
M315.4,1222.6h8M319.4,1222.6V1252.8M315.4,1252.8h8
M349.3,1205.9h8M353.3,1205.9V1237.5M349.3,1237.5h8
M383.2,1187.8h8M387.2,1187.8V1220.8M383.2,1220.8h8
M417.1,1170.1h8M421.1,1170.1V1204.5M417.1,1204.5h8
M451,1155.1h8M455,1155.1V1191.5M451,1191.5h8
M129,1318.3h8M133,1318.3V1325.1M129,1325.1h8
M146,1305.5h8M150,1305.5V1317.9M146,1317.9h8
M180,1290.4h8M184,1290.4V1307.6M180,1307.6h8
M214,1280.4h8M218,1280.4V1301M214,1301h8
M248,1271h8M252,1271V1295M248,1295h8
M281.5,1262.3h8M285.5,1262.3V1288.3M281.5,1288.3h8
M315.4,1253.3h8M319.4,1253.3V1282.1M315.4,1282.1h8
M349.3,1244.6h8M353.3,1244.6V1273.4M349.3,1273.4h8
M383.2,1235.6h8M387.2,1235.6V1264.4M383.2,1264.4h8
M417.1,1226.6h8M421.1,1226.6V1255.4M417.1,1255.4h8
M451,1218.6h8M455,1218.6V1246M451,1246h8"/>
<polyline fill="none" stroke="#15a9b8" stroke-width="1.8" points="116,1340.7 132.95,1321.7 149.9,1311.7 183.8,1299 217.7,1290.7 251.6,1283 285.5,1275.3 319.4,1267.7 353.3,1259 387.2,1250 421.1,1241 455,1232.3"/>
<polyline fill="none" stroke="#6cb6fb" stroke-width="1.8" points="116,1340.7 132.95,1320 149.9,1308.3 183.8,1292.7 217.7,1280.7 251.6,1266.7 285.5,1252.7 319.4,1237.7 353.3,1221.7 387.2,1204.3 421.1,1187.3 455,1173.3"/>
<polyline fill="none" stroke="#1a2fd0" stroke-width="1.8" points="116,1340.7 132.95,1316.7 149.9,1304 183.8,1283.3 217.7,1266.7 251.6,1247.3 285.5,1225 319.4,1200 353.3,1175 387.2,1151.7 421.1,1134 455,1119.3"/>
<polyline fill="none" stroke="#000" stroke-width="1.6" points="116,1340.7 132.95,1314 149.9,1302.7 183.8,1282.7 217.7,1263.3 251.6,1239.3 285.5,1212.7 319.4,1186 353.3,1157.7 387.2,1129.3 421.1,1100.7 455,1076"/>
<g fill="#15a9b8"><circle cx="132.95" cy="1321.7" r="3"/><circle cx="149.9" cy="1311.7" r="3"/><circle cx="183.8" cy="1299" r="3"/><circle cx="217.7" cy="1290.7" r="3"/><circle cx="251.6" cy="1283" r="3"/><circle cx="285.5" cy="1275.3" r="3"/><circle cx="319.4" cy="1267.7" r="3"/><circle cx="353.3" cy="1259" r="3"/><circle cx="387.2" cy="1250" r="3"/><circle cx="421.1" cy="1241" r="3"/><circle cx="455" cy="1232.3" r="3"/></g>
<g fill="#6cb6fb"><circle cx="132.95" cy="1320" r="3"/><circle cx="149.9" cy="1308.3" r="3"/><circle cx="183.8" cy="1292.7" r="3"/><circle cx="217.7" cy="1280.7" r="3"/><circle cx="251.6" cy="1266.7" r="3"/><circle cx="285.5" cy="1252.7" r="3"/><circle cx="319.4" cy="1237.7" r="3"/><circle cx="353.3" cy="1221.7" r="3"/><circle cx="387.2" cy="1204.3" r="3"/><circle cx="421.1" cy="1187.3" r="3"/><circle cx="455" cy="1173.3" r="3"/></g>
<g fill="#1a2fd0"><circle cx="132.95" cy="1316.7" r="3"/><circle cx="149.9" cy="1304" r="3"/><circle cx="183.8" cy="1283.3" r="3"/><circle cx="217.7" cy="1266.7" r="3"/><circle cx="251.6" cy="1247.3" r="3"/><circle cx="285.5" cy="1225" r="3"/><circle cx="319.4" cy="1200" r="3"/><circle cx="353.3" cy="1175" r="3"/><circle cx="387.2" cy="1151.7" r="3"/><circle cx="421.1" cy="1134" r="3"/><circle cx="455" cy="1119.3" r="3"/></g>
<g fill="#000"><circle cx="132.95" cy="1314" r="3"/><circle cx="149.9" cy="1302.7" r="3"/><circle cx="183.8" cy="1282.7" r="3"/><circle cx="217.7" cy="1263.3" r="3"/><circle cx="251.6" cy="1239.3" r="3"/><circle cx="285.5" cy="1212.7" r="3"/><circle cx="319.4" cy="1186" r="3"/><circle cx="353.3" cy="1157.7" r="3"/><circle cx="387.2" cy="1129.3" r="3"/><circle cx="421.1" cy="1100.7" r="3"/><circle cx="455" cy="1076" r="3"/></g>
<g stroke-width="1.8">
<line x1="129" y1="1039" x2="158" y2="1039" stroke="#000"/><circle cx="144" cy="1039" r="3" fill="#000"/>
<line x1="129" y1="1065" x2="158" y2="1065" stroke="#1a2fd0"/><circle cx="144" cy="1065" r="3" fill="#1a2fd0"/>
<line x1="129" y1="1090.7" x2="158" y2="1090.7" stroke="#6cb6fb"/><circle cx="144" cy="1090.7" r="3" fill="#6cb6fb"/>
<line x1="129" y1="1116.7" x2="158" y2="1116.7" stroke="#15a9b8"/><circle cx="144" cy="1116.7" r="3" fill="#15a9b8"/>
</g>
<g font-size="24.5">
<text x="174" y="1047.5">Ctrl</text><text x="174" y="1073.5">MTX</text><text x="174" y="1099.2">NAC</text><text x="174" y="1125.2">MTX + NAC</text>
</g>

<!-- ================= Panel e (AUC) ================= -->
<g stroke="#111" stroke-width="1.5">
<rect x="663.3" y="1082" width="47.7" height="255.7" fill="#d9d9d9"/>
<rect x="737.3" y="1108.3" width="48" height="229.4" fill="#0327c8"/>
<rect x="811.3" y="1165.7" width="48" height="172" fill="#65b0fa"/>
<rect x="885.3" y="1215" width="48" height="122.7" fill="#00a8c0"/>
</g>
<path d="M687.2,1082V1064.7M675,1064.7H699.4M761.3,1108.3V1093M749.3,1093H773.3M835.3,1165.7V1155M823.3,1155H847.3M909.3,1215V1205.7M897.3,1205.7H921.3" stroke="#000" stroke-width="1.8" fill="none"/>
<path d="M637.7,1046.7V1337.7M628.3,1337.7H958.3M628.3,1046.7H637.7M628.3,1088.3H637.7M628.3,1129.8H637.7M628.3,1171.4H637.7M628.3,1213H637.7M628.3,1254.6H637.7M628.3,1296.1H637.7M687.2,1337.7V1348.3M761.3,1337.7V1348.3M835.3,1337.7V1348.3M909.3,1337.7V1348.3" stroke="#000" stroke-width="2.5" fill="none"/>
<g class="b" font-size="23.5" text-anchor="end">
<text x="626" y="1055">1750</text><text x="626" y="1096.6">1500</text><text x="626" y="1138.1">1250</text><text x="626" y="1179.7">1000</text><text x="626" y="1221.3">750</text><text x="626" y="1262.9">500</text><text x="626" y="1304.4">250</text><text x="626" y="1346">0</text>
</g>
<text transform="translate(560,1189) rotate(-90)" class="b" font-size="24" text-anchor="middle">AUC</text>
<text x="594" y="1373.3" class="b" font-size="23">MTX</text>
<g class="b" font-size="24" text-anchor="middle">
<text x="687.2" y="1374">-</text><text x="761.3" y="1375">+</text><text x="835.3" y="1374">-</text><text x="909.3" y="1375">+</text>
<text x="878" y="1413">NAC</text>
</g>
<line x1="819" y1="1385.7" x2="929" y2="1385.7" stroke="#000" stroke-width="2"/>
<path d="M686.7,1057V1051.7H761.7V1078.3M686.7,1030V1022.3H837.7V1106.7M686.7,1003.3V995.7H909.3V1106.7M835,1145V1139H909.3V1193.3" stroke="#000" stroke-width="2" fill="none"/>
<g class="b" font-size="22">
<text x="680.7" y="1046" textLength="91.6" lengthAdjust="spacingAndGlyphs"><tspan font-style="italic">p</tspan> =0.8065</text>
<text x="726.7" y="1016.7" textLength="93.3" lengthAdjust="spacingAndGlyphs"><tspan font-style="italic">p</tspan> =0.0009</text>
<text x="766.7" y="988.3" textLength="86.6" lengthAdjust="spacingAndGlyphs"><tspan font-style="italic">p</tspan>&lt;0.0001</text>
<text x="826.7" y="1130.7" textLength="92.3" lengthAdjust="spacingAndGlyphs"><tspan font-style="italic">p</tspan> =0.0042</text>
</g>

<!-- ================= Panel f ================= -->
<text x="1072" y="958" class="b" font-size="40">f</text>
<g stroke="#d8d8d8" stroke-width="2.5" stroke-dasharray="12 6"><line x1="1217.6" y1="1226" x2="1851" y2="1226"/><line x1="1217.6" y1="1281.7" x2="1851" y2="1281.7"/></g>
<g stroke="#333" stroke-width="1.3">
<rect x="1235.3" y="1186.7" width="29.4" height="68.3" fill="#d9d9d9"/>
<rect x="1276.4" y="1118.7" width="29.4" height="136.3" fill="#028fa4"/>
<rect x="1317.5" y="1179" width="29.4" height="76" fill="#00a9c1"/>
<rect x="1358.7" y="1255" width="29.4" height="15.7" fill="#63b0fb"/>
<rect x="1399.9" y="1255" width="29.4" height="5" fill="#a3cdf7"/>
<rect x="1472.2" y="1255" width="29.4" height="11" fill="#d9d9d9"/>
<rect x="1513.3" y="1255" width="29.4" height="29" fill="#028fa4"/>
<rect x="1554.5" y="1255" width="29.4" height="14" fill="#00a9c1"/>
<rect x="1595.7" y="1252.3" width="29.4" height="2.7" fill="#63b0fb"/>
<rect x="1636.3" y="1236" width="29.4" height="19" fill="#a3cdf7"/>
<rect x="1709.1" y="1187.3" width="29.4" height="67.7" fill="#d9d9d9"/>
<rect x="1750.3" y="1255" width="29.4" height="7.3" fill="#028fa4"/>
<rect x="1791.5" y="1235" width="29.4" height="20" fill="#00a9c1"/>
<rect x="1832.6" y="1255" width="29.4" height="4.3" fill="#63b0fb"/>
<rect x="1873.8" y="1241" width="29.4" height="14" fill="#a3cdf7"/>
</g>
<path d="M1217.6,1031.7V1339.3H1919.7M1207,1032.3H1217.6M1207,1088H1217.6M1207,1143.6H1217.6M1207,1199.3H1217.6M1207,1255H1217.6M1207,1310.7H1217.6M1331.7,1339.3V1350M1568.6,1339.3V1350M1805,1339.3V1350" stroke="#000" stroke-width="2.5" fill="none"/>
<line x1="1217.6" y1="1255" x2="1919.7" y2="1255" stroke="#000" stroke-width="2.5"/>
<path stroke="#111" stroke-width="1.6" fill="none" d="
M1241.5,1169.3H1258.5M1250,1169.3V1202.7M1241.5,1202.7H1258.5
M1282.6,1092.7H1299.6M1291.1,1092.7V1143.3M1282.6,1143.3H1299.6
M1323.7,1169.3H1340.7M1332.2,1169.3V1186.7M1323.7,1186.7H1340.7
M1364.9,1259.3H1381.9M1373.4,1259.3V1284M1364.9,1284H1381.9
M1406.1,1251.7H1423.1M1414.6,1251.7V1269.3M1406.1,1269.3H1423.1
M1478.4,1242.7H1495.4M1486.9,1242.7V1291M1478.4,1291H1495.4
M1519.5,1268.3H1536.5M1528,1268.3V1300M1519.5,1300H1536.5
M1560.7,1255H1577.7M1569.2,1255V1282.3M1560.7,1282.3H1577.7
M1601.9,1239.3H1618.9M1610.4,1239.3V1264M1601.9,1264H1618.9
M1642.5,1227.3H1659.5M1651,1227.3V1243.3M1642.5,1243.3H1659.5
M1715.3,1175H1732.3M1723.8,1175V1197.7M1715.3,1197.7H1732.3
M1756.5,1246H1773.5M1765,1246V1279.3M1756.5,1279.3H1773.5
M1797.7,1231.7H1814.7M1806.2,1231.7V1238.3M1797.7,1238.3H1814.7
M1838.8,1255H1855.8M1847.3,1255V1265.7M1838.8,1265.7H1855.8
M1880,1236.7H1897M1888.5,1236.7V1245M1880,1245H1897"/>
<g fill="#000">
<circle cx="1250" cy="1164" r="3.8"/><circle cx="1250" cy="1174" r="3.8"/><circle cx="1250" cy="1219" r="3.8"/>
<circle cx="1291.1" cy="1087.7" r="3.8"/><circle cx="1291.1" cy="1097.3" r="3.8"/><circle cx="1291.1" cy="1168.3" r="3.8"/>
<circle cx="1332.2" cy="1160.7" r="3.8"/><circle cx="1323.6" cy="1188.3" r="3.8"/><circle cx="1340.6" cy="1185.7" r="3.8"/>
<circle cx="1373.4" cy="1250.7" r="3.8"/><circle cx="1373.4" cy="1270" r="3.8"/><circle cx="1373.4" cy="1294" r="3.8"/>
<circle cx="1414.6" cy="1248.3" r="3.8"/><circle cx="1414.6" cy="1253.3" r="3.8"/><circle cx="1414.6" cy="1278.3" r="3.8"/>
<circle cx="1486.9" cy="1237.3" r="3.8"/><circle cx="1486.9" cy="1248.3" r="3.8"/><circle cx="1486.9" cy="1315.7" r="3.8"/>
<circle cx="1528" cy="1254.3" r="3.8"/><circle cx="1528" cy="1288.3" r="3.8"/><circle cx="1528" cy="1309.3" r="3.8"/>
<circle cx="1569.2" cy="1248.3" r="3.8"/><circle cx="1569.2" cy="1267.3" r="3.8"/><circle cx="1569.2" cy="1292.3" r="3.8"/>
<circle cx="1610.4" cy="1231" r="3.8"/><circle cx="1610.4" cy="1250.7" r="3.8"/><circle cx="1610.4" cy="1273.3" r="3.8"/>
<circle cx="1651" cy="1224" r="3.8"/><circle cx="1651" cy="1230" r="3.8"/><circle cx="1651" cy="1250.7" r="3.8"/>
<circle cx="1723.8" cy="1168.3" r="3.8"/><circle cx="1723.8" cy="1183.3" r="3.8"/><circle cx="1723.8" cy="1207.3" r="3.8"/>
<circle cx="1757" cy="1247.7" r="3.8"/><circle cx="1773" cy="1245" r="3.8"/><circle cx="1765" cy="1296" r="3.8"/>
<circle cx="1806.2" cy="1228.3" r="3.8"/><circle cx="1806.2" cy="1236.7" r="3.8"/><circle cx="1806.2" cy="1240.7" r="3.8"/>
<circle cx="1847.3" cy="1251" r="3.8"/><circle cx="1847.3" cy="1260" r="3.8"/><circle cx="1847.3" cy="1270" r="3.8"/>
<circle cx="1888.5" cy="1235" r="3.8"/><circle cx="1888.5" cy="1240" r="3.8"/><circle cx="1888.5" cy="1248.3" r="3.8"/>
</g>
<g class="b" font-size="24" text-anchor="end">
<text x="1205" y="1040.8">8</text><text x="1205" y="1096.5">6</text><text x="1205" y="1152.1">4</text><text x="1205" y="1207.8">2</text><text x="1205" y="1263.5">0</text><text x="1205" y="1319.2">-2</text>
</g>
<text transform="translate(1173,1215) rotate(-90)" class="b" font-size="25" text-anchor="middle">-ΔΔC<tspan font-size="17" dy="5">t</tspan></text>
<g class="b" font-size="24" text-anchor="middle">
<text x="1331.7" y="1375">MTX</text><text x="1568.6" y="1375">NAC</text><text x="1805" y="1375">MTX NAC</text>
</g>
<g stroke="#333" stroke-width="1.3">
<rect x="1673.3" y="1032.7" width="28.7" height="18.5" fill="#d9d9d9"/>
<rect x="1673.3" y="1057" width="28.7" height="18.5" fill="#028fa4"/>
<rect x="1673.3" y="1083.5" width="28.7" height="18.5" fill="#00a9c1"/>
<rect x="1803.8" y="1032.7" width="28.2" height="18.5" fill="#63b0fb"/>
<rect x="1803.8" y="1057" width="28.2" height="18.5" fill="#a3cdf7"/>
</g>
<g font-size="24">
<text x="1717.4" y="1050.5">ZEB1</text><text x="1717.4" y="1075">ZEB2</text><text x="1717.4" y="1101.5">VIM</text>
<text x="1848" y="1050.5">CDH1</text><text x="1848" y="1075">SNAIL</text>
</g>
</svg>
</body></html>
